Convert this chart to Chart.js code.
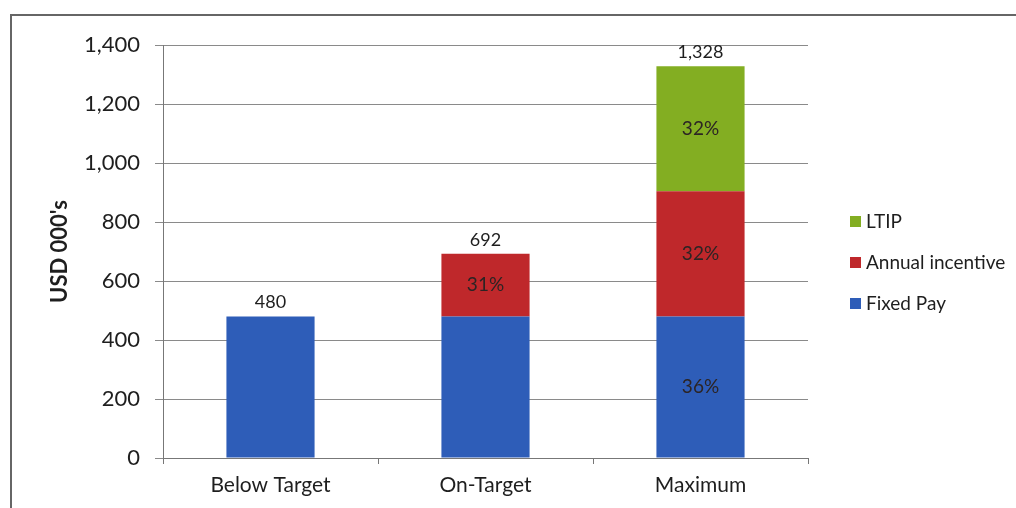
<!DOCTYPE html>
<html>
<head>
<meta charset="utf-8">
<script src="https://cdn.jsdelivr.net/npm/chart.js@4"></script>
<style>
  html, body { margin: 0; padding: 0; background: #fff; }
  body { width: 1016px; height: 508px; position: relative; overflow: hidden; font-family: Lato, sans-serif; }
  #frame { position: absolute; left: 10px; top: 14px; width: 1100px; height: 600px;
           border-left: 2px solid #666; border-top: 2px solid #666; }
  #wrap { position: absolute; left: 0; top: 0; width: 1016px; height: 508px; }
  #legend { position: absolute; left: 850px; top: 209px; color: #1e1e1e; font-size: 19px; }
  .lg-item { height: 41px; display: flex; align-items: flex-start; white-space: nowrap; }
  .lg-box { width: 11px; height: 11px; margin: 7px 5px 0 0; }
</style>
</head>
<body>
<div id="frame"></div>
<div id="wrap"><canvas id="chart" width="1016" height="508"></canvas></div>
<div id="legend"></div>

<script>
// ----- Data -----
const categories  = ['Below Target', 'On-Target', 'Maximum'];
const fixedPay    = [480, 480, 480];
const annualInc   = [0, 212, 424];
const ltip        = [0, 0, 424];
const yTicks      = [0, 200, 400, 600, 800, 1000, 1200, 1400];

// which segments carry a percentage label
const showFixedPct  = [false, false, true];
const showAnnualPct = [false, true, true];
const showLtipPct   = [false, false, true];

const BLUE  = '#2e5db8';
const RED   = '#bf282b';
const GREEN = '#83ae22';

// ----- Labels plugin: totals above bars, % inside segments -----
const labelsPlugin = {
  id: 'barLabels',
  afterDatasetsDraw(chart) {
    const ctx = chart.ctx;
    const y = chart.scales.y;
    ctx.save();
    ctx.textAlign = 'center';
    ctx.textBaseline = 'middle';

    // percentages
    ctx.font = '19px Lato';
    ctx.fillStyle = '#2c2424';
    chart.data.datasets.forEach((ds, d) => {
      const meta = chart.getDatasetMeta(d);
      meta.data.forEach((bar, i) => {
        if (!ds.showPct[i]) return;
        const total = chart.data.datasets.reduce((s, o) => s + o.data[i], 0);
        const pct = Math.round(ds.data[i] / total * 100) + '%';
        ctx.fillText(pct, bar.x, (bar.y + bar.base) / 2);
      });
    });

    // totals
    ctx.font = '18px Lato';
    ctx.fillStyle = '#1e1e1e';
    const meta0 = chart.getDatasetMeta(0);
    categories.forEach((c, i) => {
      const total = chart.data.datasets.reduce((s, o) => s + o.data[i], 0);
      ctx.fillText(total.toLocaleString('en-US'), meta0.data[i].x, y.getPixelForValue(total) - 14);
    });
    ctx.restore();
  }
};

const chart = new Chart(document.getElementById('chart'), {
  type: 'bar',
  data: {
    labels: categories,
    datasets: [
      { label: 'Fixed Pay',        data: fixedPay,  backgroundColor: BLUE,  showPct: showFixedPct },
      { label: 'Annual incentive', data: annualInc, backgroundColor: RED,   showPct: showAnnualPct },
      { label: 'LTIP',             data: ltip,      backgroundColor: GREEN, showPct: showLtipPct }
    ]
  },
  options: {
    responsive: false,
    animation: false,
    barPercentage: 0.41,
    categoryPercentage: 1.0,
    layout: { padding: { left: 0, top: 45, right: 208, bottom: 0 } },
    plugins: {
      legend: { display: false },
      tooltip: { enabled: false }
    },
    scales: {
      x: {
        stacked: true,
        grid: { drawOnChartArea: false, tickLength: 6, color: '#777' },
        border: { color: '#777', width: 1 },
        ticks: { color: '#1e1e1e', font: { family: 'Lato', size: 21 }, padding: 9 },
        afterFit: s => { s.height = 50; }
      },
      y: {
        stacked: true,
        min: 0,
        max: 1400,
        afterBuildTicks: s => { s.ticks = yTicks.map(v => ({ value: v })); },
        grid: { color: '#8a8a8a', tickLength: 8 },
        border: { color: '#777', width: 1 },
        ticks: {
          color: '#1e1e1e',
          font: { family: 'Lato', size: 22 },
          padding: 15,
          callback: v => v.toLocaleString('en-US')
        },
        title: {
          display: true,
          text: "USD 000's",
          color: '#1e1e1e',
          font: { family: 'Lato', size: 22, weight: 'bold' },
          padding: { top: 47, bottom: 0 }
        },
        afterFit: s => { s.width = 163; }
      }
    }
  },
  plugins: [labelsPlugin]
});

// ----- Legend (top item = top of stack) -----
const legend = document.getElementById('legend');
chart.data.datasets.slice().reverse().forEach(ds => {
  const item = document.createElement('div');
  item.className = 'lg-item';
  item.innerHTML = `<span class="lg-box" style="background:${ds.backgroundColor}"></span><span>${ds.label}</span>`;
  legend.appendChild(item);
});
</script>
</body>
</html>
